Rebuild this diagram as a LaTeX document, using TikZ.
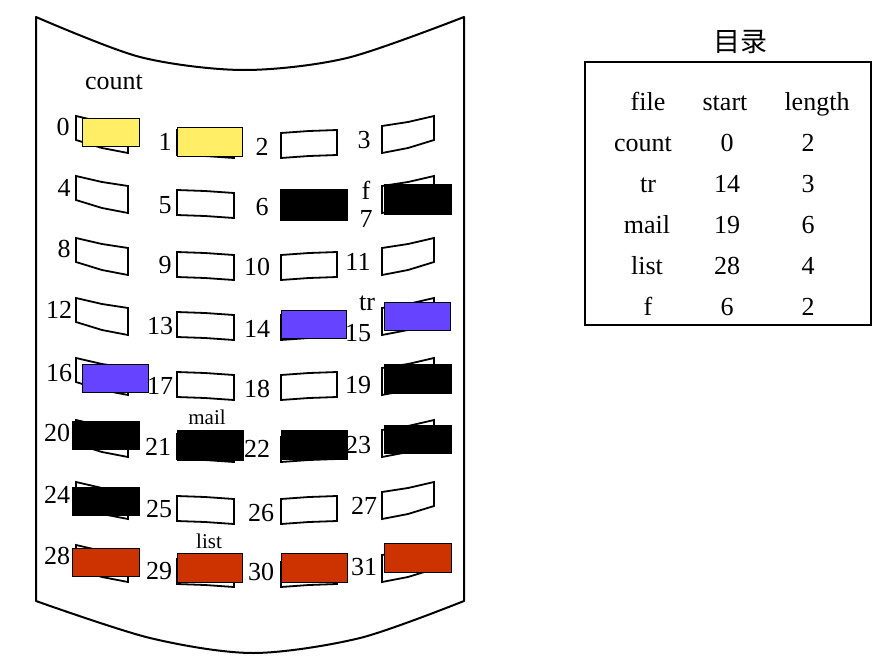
\documentclass[tikz,border=0pt]{standalone}
\usepackage{fontspec}
\setmainfont{Liberation Serif}
\newfontfamily\cjk{Noto Sans CJK SC}
\definecolor{yelc}{RGB}{255,238,102}
\definecolor{purc}{RGB}{102,68,255}
\definecolor{redc}{RGB}{204,51,0}
\newcommand\cellA[1]{\draw[cellline] (76,#1) -- (102,#1+6) -- (128,#1+10) -- (128,#1+37) -- (102,#1+32) -- (76,#1+24) -- cycle;}
\newcommand\cellD[1]{\draw[cellline] (434,#1) -- (408,#1+6) -- (382,#1+10) -- (382,#1+37) -- (408,#1+32) -- (434,#1+24) -- cycle;}
\newcommand\cellB[1]{\draw[cellline] (177,#1) -- (205,#1+1) -- (234,#1+3) -- (234,#1+28) -- (205,#1+26) -- (177,#1+25) -- cycle;}
\newcommand\cellC[1]{\draw[cellline] (281,#1+3) -- (309,#1+1) -- (337,#1) -- (337,#1+25) -- (309,#1+26) -- (281,#1+28) -- cycle;}
\begin{document}
\begin{tikzpicture}[x=1pt,y=-1pt,
  cellline/.style={draw=black, line width=1.8pt, fill=white},
  blk/.style={draw=black, line width=0.7pt},
  num/.style={font=\fontsize{26}{26}\selectfont, inner sep=0pt},
  small/.style={font=\fontsize{21}{21}\selectfont, inner sep=0pt},
  tab/.style={font=\fontsize{26}{26}\selectfont, inner sep=0pt, anchor=base}]
\useasboundingbox (0,0) rectangle (892,664);
% outer shape
\draw[line width=2pt, line join=round]
  plot[smooth, tension=0.5] coordinates {(36,17) (140,57) (243,70) (347,58) (464,17)}
  -- (464,601)
  -- plot[smooth, tension=0.5] coordinates {(464,601) (360,638) (253,653) (150,638) (36,601)}
  -- cycle;
% cells
\foreach \r in {116,176,238,298,358,420,482,545}{
  \cellA{\r}
  \cellD{\r}
  \pgfmathtruncatemacro\s{\r+14}
  \cellB{\s}
  \cellC{\s}
}
% occupied blocks
\filldraw[blk, fill=yelc] (82,118) rectangle (139,146);
\filldraw[blk, fill=yelc] (177,127) rectangle (242,156);
\filldraw[blk, fill=black] (280,189) rectangle (347,220);
\filldraw[blk, fill=black] (384,184) rectangle (451,214);
\filldraw[blk, fill=purc] (281,310) rectangle (346,338);
\filldraw[blk, fill=purc] (384,302) rectangle (450,330);
\filldraw[blk, fill=purc] (82,364) rectangle (148,392);
\filldraw[blk, fill=black] (384,364) rectangle (451,393);
\filldraw[blk, fill=black] (72,421) rectangle (139,449);
\filldraw[blk, fill=black] (177,430) rectangle (243,460);
\filldraw[blk, fill=black] (281,430) rectangle (347,459);
\filldraw[blk, fill=black] (384,425) rectangle (451,453);
\filldraw[blk, fill=black] (72,487) rectangle (139,515);
\filldraw[blk, fill=redc] (72,548) rectangle (139,576);
\filldraw[blk, fill=redc] (177,553) rectangle (242,582);
\filldraw[blk, fill=redc] (281,553) rectangle (347,582);
\filldraw[blk, fill=redc] (384,543) rectangle (451,572);
% block numbers
\node[num] (n0) at (63,127) {0};
\node[num] (n1) at (165,142) {1};
\node[num] (n2) at (262,147) {2};
\node[num] (n3) at (364,140) {3};
\node[num] (n4) at (64,188) {4};
\node[num] (n5) at (165,205) {5};
\node[num] (n6) at (262,207) {6};
\node[num] (n7) at (366,219) {7};
\node[num] (n8) at (64,249) {8};
\node[num] (n9) at (165,265) {9};
\node[num] (n10) at (257,267) {10};
\node[num] (n11) at (358,262) {11};
\node[num] (n12) at (59,310) {12};
\node[num] (n13) at (160,326) {13};
\node[num] (n14) at (257,329) {14};
\node[num] (n15) at (358,333) {15};
\node[num] (n16) at (59,373) {16};
\node[num] (n17) at (160,386) {17};
\node[num] (n18) at (257,389) {18};
\node[num] (n19) at (358,385) {19};
\node[num] (n20) at (57,433) {20};
\node[num] (n21) at (158,447) {21};
\node[num] (n22) at (257,449) {22};
\node[num] (n23) at (358,445) {23};
\node[num] (n24) at (57,495) {24};
\node[num] (n25) at (159,509) {25};
\node[num] (n26) at (261,513) {26};
\node[num] (n27) at (364,506) {27};
\node[num] (n28) at (57,556) {28};
\node[num] (n29) at (159,571) {29};
\node[num] (n30) at (261,572) {30};
\node[num] (n31) at (364,567) {31};
% file labels
\node[num] (lcount) at (114,82) {count};
\node[num] (lf) at (366,190) {f};
\node[num] (ltr) at (367,303) {tr};
\node[small] (lmail) at (207,417) {mail};
\node[small] (llist) at (209,541) {list};
% directory
\node[font=\cjk\fontsize{27}{27}\selectfont, inner sep=0pt] (title) at (740,42) {目录};
\draw[line width=1.8pt] (585,62) rectangle (871,325);
\node[tab] (h1) at (648,110) {file};
\node[tab] (h2) at (725,110) {start};
\node[tab] (h3) at (817,110) {length};
\node[tab] (a1) at (643,151) {count};
\node[tab] (a2) at (727,151) {0};
\node[tab] (a3) at (808,151) {2};
\node[tab] (b1) at (648,192) {tr};
\node[tab] (b2) at (727,192) {14};
\node[tab] (b3) at (808,192) {3};
\node[tab] (c1) at (647,233) {mail};
\node[tab] (c2) at (727,233) {19};
\node[tab] (c3) at (808,233) {6};
\node[tab] (d1) at (647,274) {list};
\node[tab] (d2) at (727,274) {28};
\node[tab] (d3) at (808,274) {4};
\node[tab] (e1) at (648,315) {f};
\node[tab] (e2) at (727,315) {6};
\node[tab] (e3) at (808,315) {2};
\end{tikzpicture}
\end{document}
